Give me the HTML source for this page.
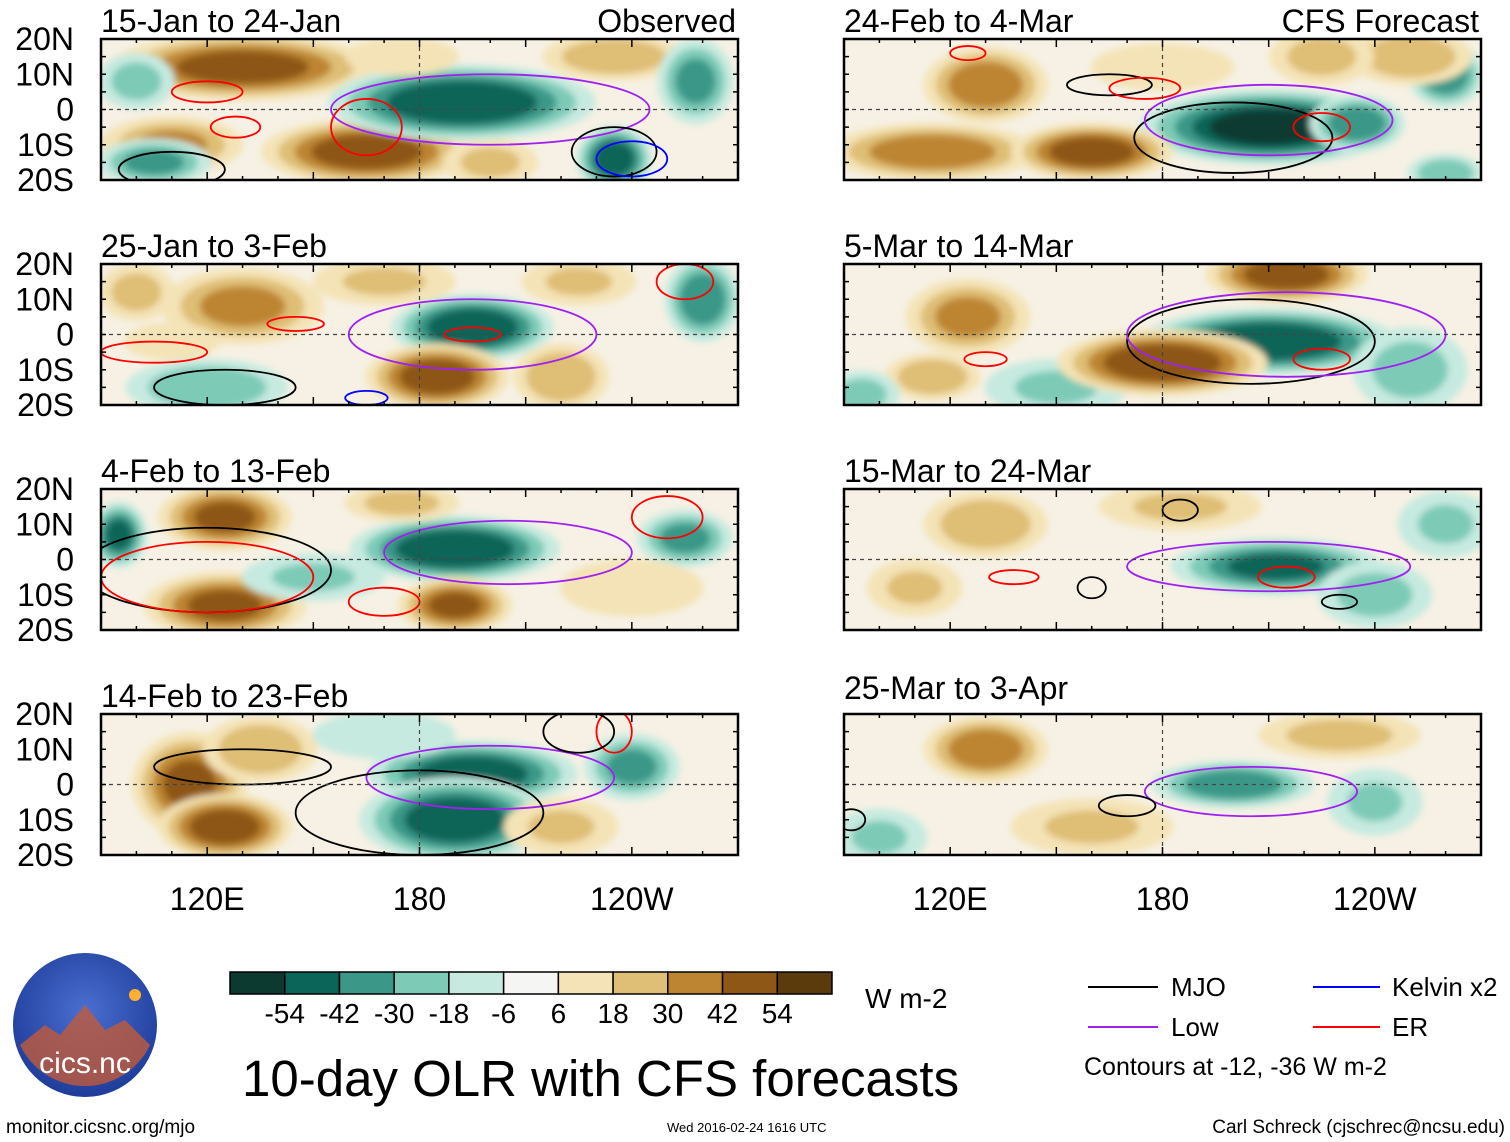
<!DOCTYPE html>
<html><head><meta charset="utf-8"><style>
body{margin:0;background:#fff;}
svg{display:block;font-family:"Liberation Sans",sans-serif;}
</style></head><body>
<svg id="chart" width="1510" height="1142" viewBox="0 0 1510 1142">
<defs>
<filter id="blur" x="-30%" y="-30%" width="160%" height="160%"><feGaussianBlur stdDeviation="3.5"/></filter>
<radialGradient id="logoBg" cx="50%" cy="40%" r="60%"><stop offset="0" stop-color="#4a6fd0"/><stop offset="1" stop-color="#1f3c9a"/></radialGradient>
</defs>
<g id="panels"></g>
<g id="colorbar"></g>
<text x="865" y="1008" font-size="28">W m-2</text>
<text x="242" y="1096" font-size="51">10-day OLR with CFS forecasts</text>
<g font-size="26">
<line x1="1088" y1="987" x2="1158" y2="987" stroke="#000" stroke-width="2"/><text x="1171" y="996">MJO</text>
<line x1="1088" y1="1027" x2="1158" y2="1027" stroke="#a020f0" stroke-width="2"/><text x="1171" y="1036">Low</text>
<line x1="1313" y1="987" x2="1380" y2="987" stroke="#0000ff" stroke-width="2"/><text x="1392" y="996">Kelvin x2</text>
<line x1="1313" y1="1027" x2="1380" y2="1027" stroke="#ff0000" stroke-width="2"/><text x="1392" y="1036">ER</text>
<text x="1084" y="1075" font-size="25">Contours at -12, -36 W m-2</text>
</g>
<g>
<circle cx="85" cy="1025" r="72" fill="url(#logoBg)"/>
<path d="M20 1045 L45 1025 L60 1035 L85 1005 L105 1030 L125 1020 L150 1045 A72 72 0 0 1 20 1045Z" fill="#c05a3a" opacity="0.8"/>
<circle cx="135" cy="995" r="6" fill="#ffb030"/>
<text x="85" y="1073" font-size="30" fill="#fff" text-anchor="middle">cics.nc</text>
</g>
<text x="6" y="1133" font-size="19">monitor.cicsnc.org/mjo</text>
<text x="667" y="1132" font-size="13">Wed 2016-02-24 1616 UTC</text>
<text x="1505" y="1133" font-size="19" text-anchor="end">Carl Schreck (cjschrec@ncsu.edu)</text>
</svg>
<script>
const NS="http://www.w3.org/2000/svg";
const colorLevels=[-54,-42,-30,-18,-6,6,18,30,42,54];
const colors=["#0c3a30","#0b6558","#3b9888","#7dcab7","#c6eae0","#f5f5f3","#f4e3b6","#dfbe75","#bd8531","#8e5716","#5b3a0b"];
const lonTicks=[120,180,240];
const lonTickLabels=["120E","180","120W"];
const latTicks=[20,10,0,-10,-20];
const latTickLabels=["20N","10N","0","10S","20S"];
const titles=["15-Jan to 24-Jan","25-Jan to 3-Feb","4-Feb to 13-Feb","14-Feb to 23-Feb","24-Feb to 4-Mar","5-Mar to 14-Mar","15-Mar to 24-Mar","25-Mar to 3-Apr"];
// blobs: [lon, lat, lonRadius, latRadius, OLR anomaly]
const blobs1=[[130,12,28,7,45],[110,-10,15,6,30],[165,-12,22,7,48],[235,15,15,5,28],[200,-15,10,5,20],[192,2,28,8,-52],[235,-14,8,7,-48],[258,8,8,9,-32],[105,-15,12,5,-32],[100,8,8,6,-22],[175,15,12,4,15]];
const blobs2=[[195,2,17,7,-52],[260,10,8,9,-38],[120,-15,17,6,-28],[130,8,17,8,32],[100,12,8,6,22],[185,-12,15,7,48],[170,15,15,5,18],[220,-12,10,7,28],[225,15,12,5,18],[110,-2,10,4,15]];
const blobs3=[[190,3,22,7,-52],[95,7,6,7,-42],[255,6,10,6,-32],[125,12,14,7,42],[125,-13,17,7,42],[190,-13,12,6,42],[175,16,12,4,22],[150,-5,15,5,-18],[240,-8,15,6,15]];
const blobs4=[[195,3,22,7,-48],[190,-10,20,9,-48],[240,5,10,7,-32],[115,0,12,11,42],[125,-12,14,7,48],[135,10,12,7,28],[170,14,15,5,-12],[220,-12,12,6,18]];
const blobs5=[[210,-5,27,8,-56],[235,-4,10,6,-38],[260,10,8,7,-38],[130,7,13,8,38],[115,-12,22,6,38],[160,-12,17,6,48],[250,15,13,6,28],[225,15,11,6,22],[260,-18,8,4,-28],[180,12,15,5,15]];
const blobs6=[[210,-2,27,7,-52],[150,-15,15,6,-18],[215,17,17,6,48],[180,-8,22,7,52],[125,5,13,8,32],[115,-12,10,5,28],[250,-10,12,9,-22],[95,-17,8,5,-22]];
const blobs7=[[212,-2,22,6,-42],[240,-10,12,7,-22],[130,10,13,7,28],[185,15,17,5,18],[110,-8,10,6,18],[260,10,10,7,-18]];
const blobs8=[[200,0,17,5,-38],[240,-5,10,7,-18],[130,10,13,7,38],[230,14,17,5,22],[160,-12,17,6,18],[100,-15,10,6,-18]];
// contours: [lon, lat, lonRadius, latRadius, wave type]
const cont1=[[200,0,45,10,"low"],[165,-5,10,8,"er"],[128,-5,7,3,"er"],[235,-12,12,7,"mjo"],[240,-14,10,5,"kelvin"],[110,-17,15,5,"mjo"],[120,5,10,3,"er"]];
const cont2=[[195,0,35,10,"low"],[255,15,8,5,"er"],[195,0,8,2,"er"],[125,-15,20,5,"mjo"],[165,-18,6,2,"kelvin"],[105,-5,15,3,"er"],[145,3,8,2,"er"]];
const cont3=[[205,2,35,9,"low"],[120,-3,35,12,"mjo"],[120,-5,30,10,"er"],[170,-12,10,4,"er"],[250,12,10,6,"er"]];
const cont4=[[200,2,35,9,"low"],[180,-8,35,12,"mjo"],[130,5,25,5,"mjo"],[235,15,5,6,"er"],[225,15,10,6,"mjo"]];
const cont5=[[200,-8,28,10,"mjo"],[210,-3,35,10,"low"],[225,-5,8,4,"er"],[165,7,12,3,"mjo"],[175,6,10,3,"er"],[125,16,5,2,"er"]];
const cont6=[[205,-2,35,12,"mjo"],[215,0,45,12,"low"],[225,-7,8,3,"er"],[130,-7,6,2,"er"]];
const cont7=[[210,-2,40,7,"low"],[215,-5,8,3,"er"],[230,-12,5,2,"mjo"],[185,14,5,3,"mjo"],[138,-5,7,2,"er"],[160,-8,4,3,"mjo"]];
const cont8=[[205,-2,30,7,"low"],[170,-6,8,3,"mjo"],[92,-10,4,3,"mjo"]];
const allBlobs=[blobs1,blobs2,blobs3,blobs4,blobs5,blobs6,blobs7,blobs8];
const allConts=[cont1,cont2,cont3,cont4,cont5,cont6,cont7,cont8];
const strokeFor={mjo:"#000",low:"#a020f0",er:"#ff0000",kelvin:"#0000ff"};
const PW=637,PH=141,LON0=90,LON1=270;
function colorFor(v){let i=0;while(i<colorLevels.length&&v>colorLevels[i])i++;return colors[i];}
function mk(tag,attrs,parent){const e=document.createElementNS(NS,tag);for(const k in attrs)e.setAttribute(k,attrs[k]);parent.appendChild(e);return e;}
const root=document.getElementById("panels");
for(let p=0;p<8;p++){
  const col=p<4?0:1,row=p%4;
  const X0=col?844:101,Y0=39+row*225;
  const xs=lon=>X0+(lon-LON0)/(LON1-LON0)*PW;
  const ys=lat=>Y0+(20-lat)/40*PH;
  const g=mk("g",{},root);
  
  
  const cp=mk("clipPath",{id:"cp"+p},g);
  mk("rect",{x:X0,y:Y0,width:PW,height:PH},cp);
  const inner=mk("g",{"clip-path":"url(#cp"+p+")"},g);
  mk("rect",{x:X0,y:Y0,width:PW,height:PH,fill:"#f6f1e4"},inner);
  const shade=mk("g",{filter:"url(#blur)"},inner);
  allBlobs[p].forEach(b=>{
    const a=Math.abs(b[4]),s=Math.sign(b[4]);
    for(let lev=6;lev<=a;lev+=12){
      const f=1.35-(lev-6)/a*0.85;
      const e=mk("ellipse",{cx:xs(b[0]),cy:ys(b[1]),rx:(xs(b[0]+b[2])-xs(b[0]))*f,ry:(ys(b[1]-b[3])-ys(b[1]))*f,fill:colorFor(s*(lev+1))},shade);
      
      
    }
  });
  allConts[p].forEach(c=>{
    const e=mk("ellipse",{cx:xs(c[0]),cy:ys(c[1]),rx:xs(c[0]+c[2])-xs(c[0]),ry:ys(c[1]-c[3])-ys(c[1]),fill:"none",stroke:strokeFor[c[4]],"stroke-width":1.8},inner);
    
    
  });
  mk("line",{x1:X0,x2:X0+PW,y1:ys(0),y2:ys(0),stroke:"#444","stroke-dasharray":"4,4","stroke-width":1.2},inner);
  mk("line",{x1:xs(180),x2:xs(180),y1:Y0,y2:Y0+PH,stroke:"#444","stroke-dasharray":"4,4","stroke-width":1.2},inner);
  const fr=mk("rect",{x:X0,y:Y0,width:PW,height:PH,fill:"none",stroke:"#000","stroke-width":2.5},g);
  
  
  for(let lon=LON0;lon<=LON1;lon+=10){const L=(lon%30===0)?8:4;
    mk("line",{x1:xs(lon),x2:xs(lon),y1:Y0,y2:Y0+L,stroke:"#000","stroke-width":1.5},g);
    mk("line",{x1:xs(lon),x2:xs(lon),y1:Y0+PH,y2:Y0+PH-L,stroke:"#000","stroke-width":1.5},g);}
  for(let lat=-20;lat<=20;lat+=5){
    mk("line",{x1:X0,x2:X0+5,y1:ys(lat),y2:ys(lat),stroke:"#000","stroke-width":1.5},g);
    mk("line",{x1:X0+PW,x2:X0+PW-5,y1:ys(lat),y2:ys(lat),stroke:"#000","stroke-width":1.5},g);}
  const t=mk("text",{x:X0,y:Y0-7+(p===7?-8:0),"font-size":32},g);t.textContent=titles[p];
  
  
  if(p===0||p===4){const t2=mk("text",{x:X0+PW-2,y:Y0-7,"font-size":32,"text-anchor":"end"},g);t2.textContent=p?"CFS Forecast":"Observed";
    
    }
  if(col===0){latTicks.forEach((lat,i)=>{const tt=mk("text",{x:74,y:ys(lat)+11,"font-size":32,"text-anchor":"end"},g);tt.textContent=latTickLabels[i];
    
    });}
  if(row===3){lonTicks.forEach((lon,i)=>{const tt=mk("text",{x:xs(lon),y:910,"font-size":32,"text-anchor":"middle"},g);tt.textContent=lonTickLabels[i];
    
    });}
}
const cb=document.getElementById("colorbar");
const CB0=230,CBW=602/11;
colors.forEach((c,i)=>{const r=mk("rect",{x:CB0+i*CBW,y:972,width:CBW,height:22,fill:c,stroke:"#000","stroke-width":1.5},cb);
  
  });
colorLevels.forEach((v,i)=>{const t=mk("text",{x:CB0+(i+1)*CBW,y:1023,"font-size":28,"text-anchor":"middle"},cb);t.textContent=v;
  
  });
</script>
</body></html>
